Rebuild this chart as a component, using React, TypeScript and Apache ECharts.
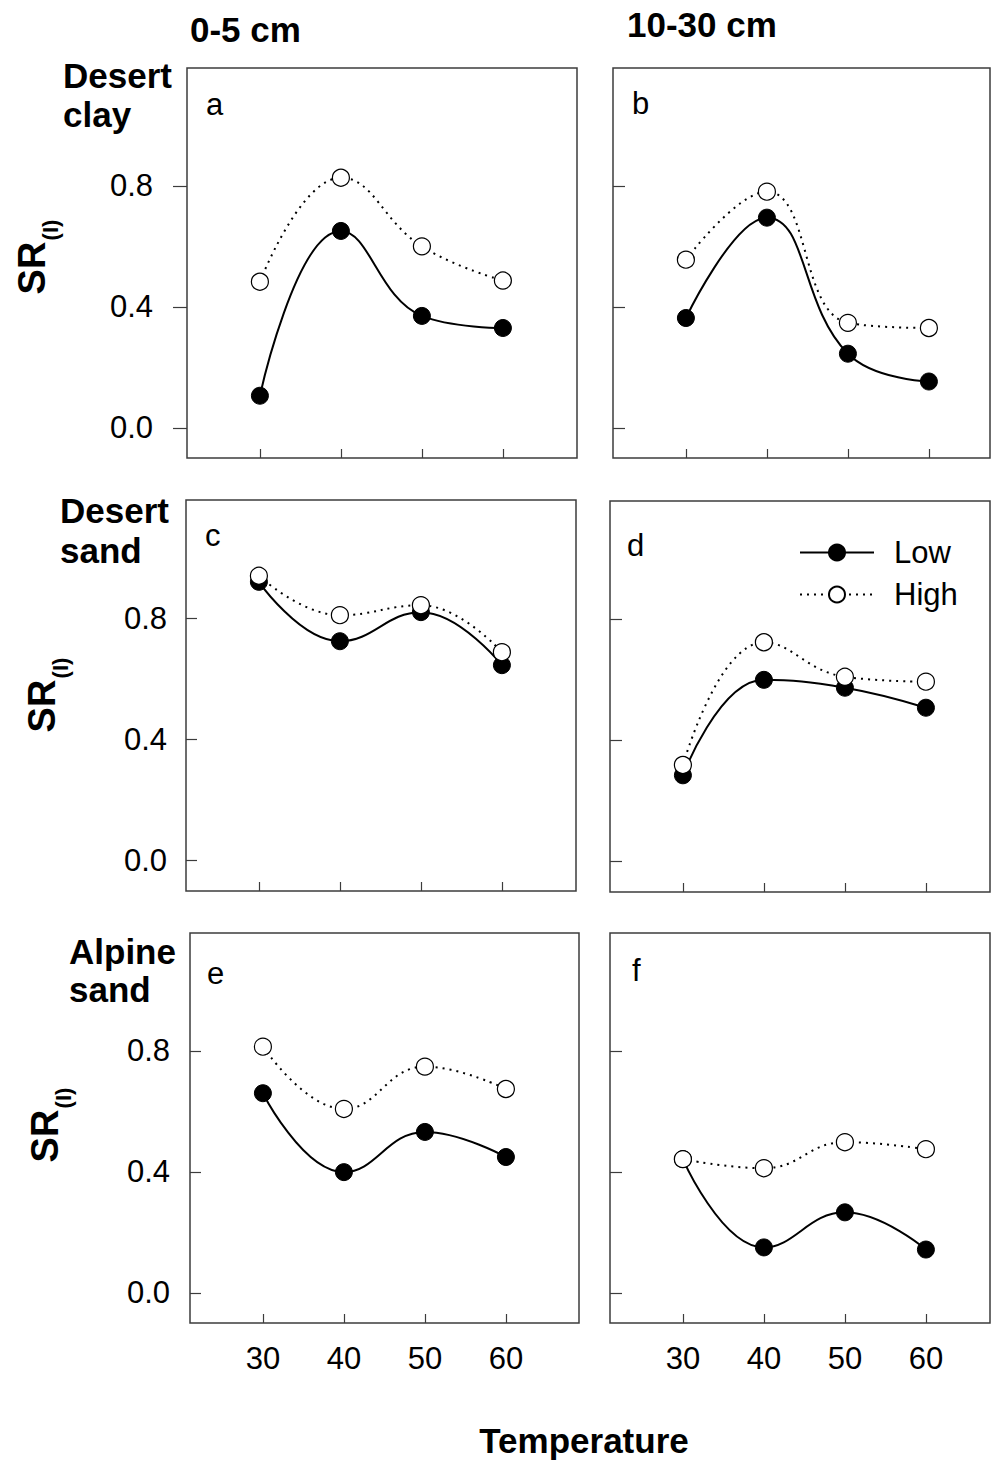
import React, { useEffect, useRef } from "react";
import * as echarts from "echarts";

// ---- data ----
const temperatures = [30, 40, 50, 60];
const yTickValues = [0, 0.4, 0.8];
const depthTitles = ["0-5 cm", "10-30 cm"];
const soilLabels = [
  ["Desert", "clay"],
  ["Desert", "sand"],
  ["Alpine", "sand"],
];
const panelLetters = ["a", "b", "c", "d", "e", "f"];
const seriesNames = ["Low", "High"];

const lowA = [0.106, 0.651, 0.37, 0.33];
const highA = [0.483, 0.827, 0.6, 0.487];
const lowB = [0.363, 0.695, 0.245, 0.153];
const highB = [0.556, 0.781, 0.347, 0.33];
const lowC = [0.92, 0.724, 0.82, 0.645];
const highC = [0.94, 0.81, 0.843, 0.688];
const lowD = [0.285, 0.6, 0.574, 0.508];
const highD = [0.319, 0.724, 0.61, 0.594];
const lowE = [0.66, 0.399, 0.532, 0.449];
const highE = [0.814, 0.608, 0.748, 0.674];
const lowF = [0.442, 0.15, 0.266, 0.143];
const highF = [0.442, 0.412, 0.498, 0.475];

const panelData = [
  [lowA, highA],
  [lowB, highB],
  [lowC, highC],
  [lowD, highD],
  [lowE, highE],
  [lowF, highF],
];

// ---- layout ----
const FONT = "'Liberation Sans', Arial, Helvetica, sans-serif";
const PX_PER_X = 8.1;
const X_MIN = 21;
const Y_MIN = -0.1;
const Y_MAX = 1.19;

const panels = [
  { left: 187, top: 68, width: 390, height: 390, yTickInside: false, yTickLen: 14, yLabels: true, yMargin: 34, xLabels: false },
  { left: 613, top: 68, width: 377, height: 390, yTickInside: true, yTickLen: 12, yLabels: false, yMargin: 20, xLabels: false },
  { left: 186, top: 500, width: 390, height: 391, yTickInside: true, yTickLen: 11, yLabels: true, yMargin: 19, xLabels: false },
  { left: 610, top: 501, width: 380, height: 391, yTickInside: true, yTickLen: 12, yLabels: false, yMargin: 20, xLabels: false },
  { left: 190, top: 933, width: 389, height: 390, yTickInside: true, yTickLen: 11, yLabels: true, yMargin: 20, xLabels: true },
  { left: 610, top: 933, width: 380, height: 390, yTickInside: true, yTickLen: 12, yLabels: false, yMargin: 20, xLabels: true },
];

const letterPos = [
  [206, 104],
  [632, 103],
  [205, 535],
  [627, 545],
  [207, 973],
  [632, 970],
];

const srPos = [
  [32, 268, 50, 230],
  [42, 706, 60, 668],
  [45, 1136, 63, 1098],
];

const rowLabelPos = [
  [63, 75, 114],
  [60, 510, 550],
  [69, 951, 989],
];

function buildOption() {
  const grid: any[] = [];
  const xAxis: any[] = [];
  const yAxis: any[] = [];
  const series: any[] = [];

  panels.forEach((p, i) => {
    grid.push({
      left: p.left,
      top: p.top,
      width: p.width,
      height: p.height,
      show: true,
      borderColor: "#3c3c3c",
      borderWidth: 1.5,
      backgroundColor: "transparent",
    });
    xAxis.push({
      type: "value",
      gridIndex: i,
      position: "bottom",
      min: X_MIN,
      max: X_MIN + p.width / PX_PER_X,
      axisLine: { show: false, onZero: false },
      splitLine: { show: false },
      axisTick: {
        show: true,
        inside: true,
        length: 9,
        customValues: temperatures,
        lineStyle: { color: "#3c3c3c", width: 1.2 },
      },
      axisLabel: {
        show: p.xLabels,
        customValues: temperatures,
        margin: 20,
        fontSize: 31,
        color: "#000",
        fontFamily: FONT,
      },
    });
    yAxis.push({
      type: "value",
      gridIndex: i,
      position: "left",
      min: Y_MIN,
      max: Y_MAX,
      axisLine: { show: false, onZero: false },
      splitLine: { show: false },
      axisTick: {
        show: true,
        inside: p.yTickInside,
        length: p.yTickLen,
        customValues: yTickValues,
        lineStyle: { color: "#3c3c3c", width: 1.2 },
      },
      axisLabel: {
        show: p.yLabels,
        customValues: yTickValues,
        margin: p.yMargin,
        fontSize: 31,
        color: "#000",
        fontFamily: FONT,
        formatter: (v: number) => v.toFixed(1),
      },
    });
    const [low, high] = panelData[i];
    series.push({
      name: seriesNames[0],
      type: "line",
      xAxisIndex: i,
      yAxisIndex: i,
      smooth: 0.45,
      data: temperatures.map((t, k) => [t, low[k]]),
      symbol: "circle",
      symbolSize: 17,
      itemStyle: { color: "#000", borderColor: "#000", borderWidth: 1 },
      lineStyle: { color: "#000", width: 2, type: "solid" },
      z: 2,
    });
    series.push({
      name: seriesNames[1],
      type: "line",
      xAxisIndex: i,
      yAxisIndex: i,
      smooth: 0.45,
      data: temperatures.map((t, k) => [t, high[k]]),
      symbol: "circle",
      symbolSize: 17,
      itemStyle: { color: "#fff", borderColor: "#000", borderWidth: 1.2 },
      lineStyle: { color: "#000", width: 2, type: [2, 5] },
      z: 3,
    });
  });

  const graphic: any[] = [];
  const bold = (text: string, x: number, y: number, extra: any = {}) => ({
    type: "text",
    x,
    y,
    style: {
      text,
      fontSize: 35,
      fontWeight: "bold",
      fontFamily: FONT,
      fill: "#000",
      align: "left",
      verticalAlign: "middle",
      ...extra,
    },
  });

  graphic.push(bold(depthTitles[0], 190, 29));
  graphic.push(bold(depthTitles[1], 627, 24));

  soilLabels.forEach((lbl, r) => {
    const [x, y1, y2] = rowLabelPos[r];
    graphic.push(bold(lbl[0], x, y1));
    graphic.push(bold(lbl[1], x, y2));
  });

  srPos.forEach(([sx, sy, ix, iy]) => {
    graphic.push({
      type: "text",
      x: sx,
      y: sy,
      rotation: Math.PI / 2,
      style: {
        text: "SR",
        fontSize: 38,
        fontWeight: "bold",
        fontFamily: FONT,
        fill: "#000",
        align: "center",
        verticalAlign: "middle",
      },
    });
    graphic.push({
      type: "text",
      x: ix,
      y: iy,
      rotation: Math.PI / 2,
      style: {
        text: "(I)",
        fontSize: 22,
        fontWeight: "bold",
        fontFamily: FONT,
        fill: "#000",
        align: "center",
        verticalAlign: "middle",
      },
    });
  });

  panelLetters.forEach((l, i) => {
    graphic.push({
      type: "text",
      x: letterPos[i][0],
      y: letterPos[i][1],
      style: {
        text: l,
        fontSize: 31,
        fontFamily: FONT,
        fill: "#000",
        align: "left",
        verticalAlign: "middle",
      },
    });
  });

  graphic.push(bold("Temperature", 584, 1440, { align: "center" }));

  return {
    animation: false,
    backgroundColor: "#fff",
    grid,
    xAxis,
    yAxis,
    series,
    legend: {
      data: seriesNames,
      orient: "vertical",
      left: 794,
      top: 532,
      itemWidth: 74,
      itemHeight: 20,
      itemGap: 11,
      selectedMode: false,
      textStyle: {
        fontSize: 31,
        color: "#000",
        fontFamily: FONT,
        padding: [0, 0, 0, 15],
      },
    },
    graphic,
  };
}

export default function App() {
  const ref = useRef<HTMLDivElement>(null);
  useEffect(() => {
    if (!ref.current) return;
    const chart = echarts.init(ref.current, undefined, { renderer: "svg" });
    chart.setOption(buildOption() as any);
    return () => {
      chart.dispose();
    };
  }, []);
  return (
    <div
      ref={ref}
      style={{ position: "absolute", left: 0, top: 0, width: 991, height: 1460, background: "#fff" }}
    />
  );
}
